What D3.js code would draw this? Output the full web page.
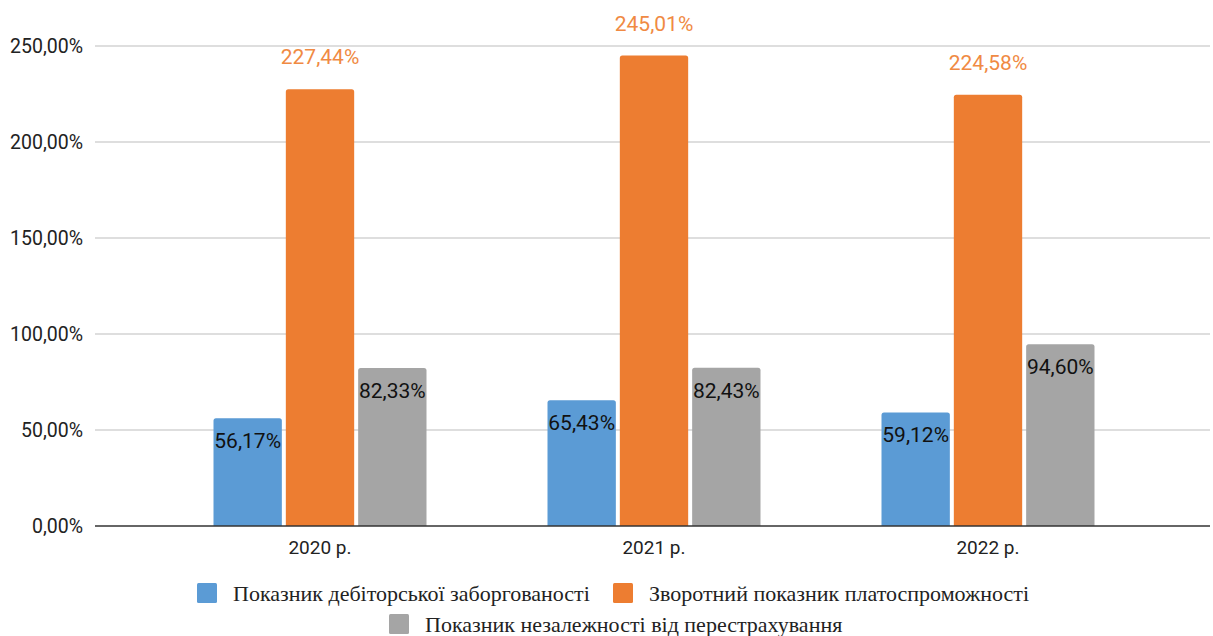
<!DOCTYPE html>
<html>
<head>
<meta charset="utf-8">
<script src="https://cdn.jsdelivr.net/npm/d3@7"></script>
<style>
  body { margin: 0; background: #fff; }
  .tick-label { font-family: Roboto, "Noto Sans", sans-serif; font-size: 19.5px; fill: #222; }
  .xlab { font-size: 19px; }
  .val { font-family: Roboto, "Noto Sans", sans-serif; font-size: 21px; }
  .legend text { font-family: "Liberation Serif", "DejaVu Serif", serif; font-size: 22px; fill: #222; }
</style>
</head>
<body>
<div id="chart"></div>
<script>
  var years = ["2020 р.", "2021 р.", "2022 р."];
  var seriesNames = [
    "Показник дебіторської заборгованості",
    "Зворотний показник платоспроможності",
    "Показник незалежності від перестрахування"
  ];
  var debit = [56.17, 65.43, 59.12];
  var reverse = [227.44, 245.01, 224.58];
  var independ = [82.33, 82.43, 94.60];
  var yTicks = [0, 50, 100, 150, 200, 250];
  var colors = ["#5b9bd5", "#ed7d31", "#a5a5a5"];

  var width = 1213, height = 636;
  var series = [debit, reverse, independ];

  var svg = d3.select("#chart")
    .append("svg")
    .attr("width", width)
    .attr("height", height);

  var y = d3.scaleLinear().domain([0, 250]).range([526, 46]);
  var x = d3.scaleBand().domain(years).range([153, 1155]);
  var inner = d3.scaleBand().domain([0, 1, 2]).range([-106.5, 106.5]).paddingInner(0.055);

  var fmt = function(v) { return v.toFixed(2).replace(".", ",") + "%"; };

  // gridlines
  svg.selectAll(".grid")
    .data(yTicks.filter(function(d) { return d > 0; }))
  .enter().append("line")
    .attr("x1", 95).attr("x2", 1210)
    .attr("y1", function(d) { return y(d); })
    .attr("y2", function(d) { return y(d); })
    .attr("stroke", "#d3d3d3")
    .attr("stroke-width", 1.3);

  svg.selectAll(".ylab")
    .data(yTicks)
  .enter().append("text")
    .attr("class", "tick-label")
    .attr("x", 83)
    .attr("y", function(d) { return y(d); })
    .attr("dy", "0.35em")
    .attr("text-anchor", "end")
    .text(function(d) { return d.toFixed(2).replace(".", ",") + "%"; });

  // bars
  var bars = [];
  series.forEach(function(s, si) {
    s.forEach(function(v, i) { bars.push({ s: si, i: i, v: v }); });
  });

  function barPath(d) {
    var x0 = x(years[d.i]) + x.bandwidth() / 2 + inner(d.s);
    var w = inner.bandwidth();
    var top = y(d.v), bot = y(0), r = 2.5;
    return "M" + x0 + "," + bot +
      "V" + (top + r) +
      "Q" + x0 + "," + top + " " + (x0 + r) + "," + top +
      "H" + (x0 + w - r) +
      "Q" + (x0 + w) + "," + top + " " + (x0 + w) + "," + (top + r) +
      "V" + bot + "Z";
  }

  svg.selectAll(".bar")
    .data(bars)
  .enter().append("path")
    .attr("d", barPath)
    .attr("fill", function(d) { return colors[d.s]; });

  // value labels
  svg.selectAll(".val")
    .data(bars)
  .enter().append("text")
    .attr("class", "val")
    .attr("x", function(d) { return x(years[d.i]) + x.bandwidth() / 2 + inner(d.s) + inner.bandwidth() / 2; })
    .attr("y", function(d) { return d.s === 1 ? y(d.v) - 25 : y(d.v) + 30; })
    .attr("text-anchor", "middle")
    .attr("fill", function(d) { return d.s === 1 ? "#f08a43" : "#111"; })
    .text(function(d) { return fmt(d.v); });

  // baseline
  svg.append("line")
    .attr("x1", 95).attr("x2", 1210)
    .attr("y1", y(0)).attr("y2", y(0))
    .attr("stroke", "#333").attr("stroke-width", 1.5);

  svg.selectAll(".xlab")
    .data(years)
  .enter().append("text")
    .attr("class", "tick-label xlab")
    .attr("x", function(d) { return x(d) + x.bandwidth() / 2; })
    .attr("y", 554)
    .attr("text-anchor", "middle")
    .text(function(d) { return d; });

  // legend
  var legendPos = [[197, 593], [613, 593], [389, 624]];
  var lg = svg.append("g").attr("class", "legend");
  seriesNames.forEach(function(name, i) {
    var p = legendPos[i];
    lg.append("rect")
      .attr("x", p[0]).attr("y", p[1] - 10)
      .attr("width", 20).attr("height", 20)
      .attr("rx", 1.5)
      .attr("fill", colors[i]);
    lg.append("text")
      .attr("x", p[0] + 36).attr("y", p[1])
      .attr("dy", "0.35em")
      .text(name);
  });
</script>
</body>
</html>
